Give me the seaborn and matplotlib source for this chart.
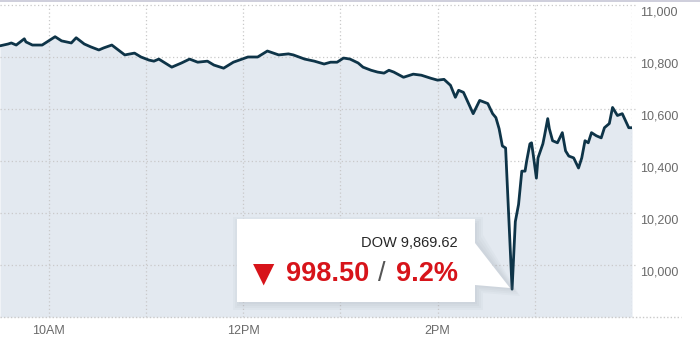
import matplotlib
matplotlib.use("Agg")
import matplotlib.pyplot as plt
import matplotlib.transforms as mtransforms
from matplotlib.patches import Rectangle, Polygon
import seaborn as sns

# minutes after the 9:30 open
minutes = [0, 5, 7, 10, 15, 16, 20, 26, 29, 34, 38, 44, 47, 52, 56, 61, 64, 69, 73, 77,
           83, 87, 92, 95, 98, 106, 112, 117, 122, 128, 132, 138, 144, 153, 159, 165, 172,
           178, 181, 188, 194, 200, 204, 208, 212, 216, 221, 224, 229, 233, 237, 240, 243,
           249, 255, 260, 266, 270, 274, 278, 281, 283, 286, 292, 296, 301, 304, 306, 308,
           310, 312, 316, 318, 320, 322, 324, 325, 327, 328, 329, 331, 332, 335, 336, 338,
           339, 341, 344, 347, 349, 351, 354, 357, 359, 361, 363, 365, 368, 371, 373, 376,
           378, 381, 384, 386, 388, 390]
dow = [10843, 10850, 10854, 10846, 10870, 10858, 10846, 10846, 10858, 10878, 10862, 10854,
       10874, 10850, 10839, 10827, 10835, 10846, 10827, 10808, 10815, 10800, 10788, 10784,
       10792, 10761, 10777, 10792, 10780, 10784, 10769, 10757, 10780, 10800, 10800, 10823,
       10808, 10812, 10808, 10792, 10784, 10773, 10780, 10780, 10796, 10792, 10777, 10761,
       10749, 10742, 10738, 10749, 10742, 10722, 10734, 10730, 10718, 10711, 10714, 10691,
       10645, 10672, 10664, 10582, 10633, 10621, 10582, 10567, 10524, 10458, 10450, 9907,
       10167, 10233, 10361, 10361, 10400, 10466, 10470, 10427, 10334, 10412, 10466, 10497,
       10563, 10524, 10478, 10470, 10509, 10439, 10419, 10412, 10373, 10412, 10478, 10470,
       10509, 10497, 10489, 10528, 10544, 10606, 10575, 10582, 10555, 10528, 10528]

hour_ticks = [30, 90, 150, 210, 270, 330, 390]
hour_labels = ["10AM", "", "12PM", "", "2PM", "", ""]
y_ticks = [9800, 10000, 10200, 10400, 10600, 10800, 11000]
y_labels = ["", "10,000", "10,200", "10,400", "10,600", "10,800", "11,000"]

callout_title = "DOW 9,869.62"
callout_arrow = "\u25BC"
callout_points = "998.50"
callout_sep = "/"
callout_pct = "9.2%"

sns.set_style("white")
plt.rcParams["font.family"] = ["Liberation Sans", "DejaVu Sans"]

W, H = 700, 340
fig = plt.figure(figsize=(7, 3.4), dpi=100)
fig.patch.set_facecolor("white")

def fx(px):
    return px / W

def fy(py):
    return 1 - py / H

ax = fig.add_axes([0, fy(317), fx(632), (317 - 5) / H])
ax.set_xlim(0, 390)
ax.set_ylim(9800, 11000)

line_col = "#0e3448"
fill_col = "#e3e9f0"
grid_col = "#c9c9c9"
text_col = "#6a6a6a"

ax.fill_between(minutes, dow, 9800, color=fill_col, lw=0, zorder=1)

# gridlines
for yv in y_ticks[1:]:
    ax.plot([0, 1.008], [yv, yv], transform=ax.get_yaxis_transform(), color=grid_col,
            lw=0.9, ls=(0, (1, 2)), clip_on=False, zorder=2)
ax.plot([0, 1.077], [9800, 9800], transform=ax.get_yaxis_transform(), color=grid_col,
        lw=1.0, ls=(0, (1, 1.5)), clip_on=False, zorder=2)
for xv in hour_ticks:
    ax.axvline(xv, color=grid_col, lw=0.9, ls=(0, (1, 2)), zorder=2)

sns.lineplot(x=minutes, y=dow, ax=ax, color=line_col, lw=2.0, sort=False, zorder=4)

for s in ax.spines.values():
    s.set_visible(False)
ax.set_xticks(hour_ticks)
ax.set_xticklabels(hour_labels, fontsize=9, color=text_col)
ax.tick_params(axis="x", direction="out", length=4, width=0.9, color="#c8c8c8", pad=2)
ax.set_yticks([])
ax.set_xlabel("")
ax.set_ylabel("")

off = mtransforms.offset_copy(ax.get_yaxis_transform(), fig=fig, x=0, y=-7, units="dots")
for yv, lab in zip(y_ticks, y_labels):
    if lab:
        ax.text(1.0127, yv, lab, transform=off, fontsize=9, color=text_col,
                ha="left", va="center", clip_on=False)

# top border
fig.add_artist(Rectangle((0, fy(1.5)), 1, 1.5 / H, transform=fig.transFigure,
                         facecolor="#cfcfdc", edgecolor="none"))

# callout shadow
for i, a in enumerate([0.05, 0.05, 0.05, 0.05]):
    d = 2 + i * 2
    fig.add_artist(Polygon([(fx(237 - d + 4), fy(219 - d + 6)), (fx(475 + d), fy(219 - d + 6)),
                            (fx(475 + d), fy(243 - d)), (fx(512 + d), fy(288 + d)),
                            (fx(475 + d), fy(285 + d)), (fx(475 + d), fy(302 + d)),
                            (fx(237 - d + 4), fy(302 + d))],
                           closed=True, transform=fig.transFigure,
                           facecolor="#7d8793", edgecolor="none", alpha=a, zorder=5))
fig.add_artist(Polygon([(fx(237), fy(219)), (fx(475), fy(219)), (fx(475), fy(243)),
                        (fx(510), fy(288)), (fx(475), fy(285)), (fx(475), fy(302)),
                        (fx(237), fy(302))],
                       closed=True, transform=fig.transFigure,
                       facecolor="white", edgecolor="none", zorder=6))

fig.text(fx(458), fy(243), callout_title, ha="right", va="center", fontsize=10.5,
         color="#262626", zorder=7)
red = "#d7141a"
fig.text(fx(263.5), fy(274), callout_arrow, ha="center", va="center", fontsize=20,
         color=red, family=["DejaVu Sans"], zorder=7)
fig.text(fx(369), fy(274), callout_points, ha="right", va="center", fontsize=19.5,
         fontweight="bold", color=red, zorder=7)
fig.text(fx(382), fy(274), callout_sep, ha="center", va="center", fontsize=19.5,
         color="#555555", zorder=7)
fig.text(fx(458), fy(274), callout_pct, ha="right", va="center", fontsize=19.5,
         fontweight="bold", color=red, zorder=7)

fig.savefig("out.png", dpi=100, facecolor="white")
